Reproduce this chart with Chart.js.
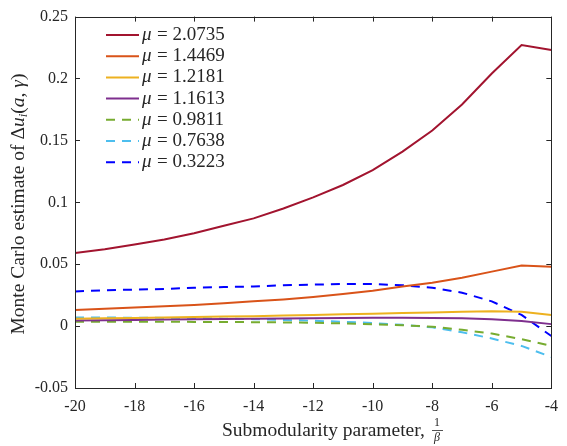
<!DOCTYPE html>
<html>
<head>
<meta charset="utf-8">
<script src="https://cdn.jsdelivr.net/npm/chart.js@4"></script>
<style>
  html, body { margin: 0; padding: 0; background: #fff; }
  #wrap { width: 567px; height: 446px; }
</style>
</head>
<body>
<div id="wrap"><canvas id="mcChart" width="567" height="446"></canvas></div>
<script>
// x values (1/beta)
const betaInv = [-20, -19, -18, -17, -16, -15, -14, -13, -12, -11, -10, -9, -8, -7, -6, -5, -4];

// one series per mu
const mu20735 = [0.059, 0.062, 0.066, 0.070, 0.075, 0.081, 0.087, 0.095, 0.104, 0.114, 0.126, 0.141, 0.158, 0.179, 0.204, 0.227, 0.223];
const mu14469 = [0.013, 0.014, 0.015, 0.016, 0.017, 0.0185, 0.020, 0.0215, 0.0235, 0.026, 0.0285, 0.032, 0.035, 0.039, 0.044, 0.049, 0.048];
const mu12181 = [0.006, 0.0063, 0.0066, 0.007, 0.0073, 0.0077, 0.008, 0.0085, 0.009, 0.0095, 0.010, 0.0105, 0.011, 0.0115, 0.012, 0.0115, 0.009];
const mu11613 = [0.0045, 0.0048, 0.005, 0.0053, 0.0055, 0.0057, 0.006, 0.0062, 0.0064, 0.0066, 0.0067, 0.0067, 0.0066, 0.0063, 0.0056, 0.0042, 0.0016];
const mu09811 = [0.0035, 0.0035, 0.0035, 0.0035, 0.0034, 0.0033, 0.0032, 0.003, 0.0027, 0.0022, 0.0015, 0.0007, -0.0005, -0.003, -0.006, -0.0105, -0.016];
const mu07638 = [0.007, 0.0069, 0.0068, 0.0066, 0.0064, 0.006, 0.0056, 0.005, 0.0043, 0.0035, 0.0025, 0.001, -0.001, -0.005, -0.010, -0.016, -0.025];
const mu03223 = [0.028, 0.029, 0.0295, 0.030, 0.031, 0.0315, 0.032, 0.033, 0.0335, 0.034, 0.034, 0.033, 0.031, 0.027, 0.020, 0.009, -0.008];

const muLabels = ['2.0735', '1.4469', '1.2181', '1.1613', '0.9811', '0.7638', '0.3223'];
const xTicks = [-20, -18, -16, -14, -12, -10, -8, -6, -4];
const yTicks = [-0.05, 0, 0.05, 0.1, 0.15, 0.2, 0.25];

const seriesList = [mu20735, mu14469, mu12181, mu11613, mu09811, mu07638, mu03223];
const colors = ['#A2142F', '#D95319', '#EDB120', '#7E2F8E', '#77AC30', '#4DBEEE', '#0000FF'];
const dashed = [false, false, false, false, true, true, true];

const SERIF = '"Liberation Serif", "DejaVu Serif", serif';
const INK = '#262626';

const datasets = seriesList.map(function(vals, i) {
    return {
        label: '\u03bc = ' + muLabels[i],
        data: betaInv.map(function(x, k) { return {x: x, y: vals[k]}; }),
        borderColor: colors[i],
        backgroundColor: colors[i],
        borderWidth: 2,
        borderDash: dashed[i] ? [9, 7] : [],
        pointRadius: 0,
        tension: 0
    };
});

// frame, inward ticks, legend and axis titles
const decorations = {
    id: 'decorations',
    afterDraw(chart) {
        const ctx = chart.ctx;
        const a = chart.chartArea;
        const xs = chart.scales.x, ys = chart.scales.y;
        ctx.save();
        ctx.strokeStyle = INK;
        ctx.lineWidth = 1;
        ctx.strokeRect(Math.round(a.left) + 0.5, Math.round(a.top) + 0.5,
            Math.round(a.right - a.left), Math.round(a.bottom - a.top));
        ctx.beginPath();
        xTicks.forEach(function(t) {
            const px = Math.round(xs.getPixelForValue(t)) + 0.5;
            ctx.moveTo(px, a.bottom); ctx.lineTo(px, a.bottom - 5);
            ctx.moveTo(px, a.top); ctx.lineTo(px, a.top + 5);
        });
        yTicks.forEach(function(t) {
            const py = Math.round(ys.getPixelForValue(t)) + 0.5;
            ctx.moveTo(a.left, py); ctx.lineTo(a.left + 5, py);
            ctx.moveTo(a.right, py); ctx.lineTo(a.right - 5, py);
        });
        ctx.stroke();

        // legend
        ctx.textBaseline = 'middle';
        ctx.fillStyle = INK;
        muLabels.forEach(function(lab, i) {
            const y = 35 + i * 21.2;
            ctx.strokeStyle = colors[i];
            ctx.lineWidth = 2;
            ctx.setLineDash(dashed[i] ? [9, 7] : []);
            ctx.beginPath();
            ctx.moveTo(106, y); ctx.lineTo(139, y);
            ctx.stroke();
            ctx.setLineDash([]);
            ctx.font = 'italic 19px ' + SERIF;
            ctx.fillText('\u03bc', 142, y);
            ctx.font = '19px ' + SERIF;
            ctx.fillText('= ' + lab, 157, y);
        });

        // x title
        ctx.font = '19.5px ' + SERIF;
        ctx.textAlign = 'left';
        ctx.fillText('Submodularity parameter,', 222, 431);
        ctx.font = '12px ' + SERIF;
        ctx.textAlign = 'center';
        ctx.fillText('1', 437, 423);
        ctx.font = 'italic 12px ' + SERIF;
        ctx.fillText('\u03b2', 437, 438);
        ctx.beginPath();
        ctx.strokeStyle = INK;
        ctx.lineWidth = 0.8;
        ctx.moveTo(432, 430.5); ctx.lineTo(443, 430.5);
        ctx.stroke();

        // y title
        ctx.translate(19, 204);
        ctx.rotate(-Math.PI / 2);
        const parts = [
            ['Monte Carlo estimate of \u0394', ''],
            ['u', 'italic '],
            ['i', 'italic sub'],
            ['(', ''],
            ['a', 'italic '],
            [', ', ''],
            ['\u03b3', 'italic '],
            [')', '']
        ];
        let total = 0;
        parts.forEach(function(p) {
            ctx.font = (p[1] === 'italic sub' ? 'italic 13px ' : p[1] + '19.5px ') + SERIF;
            p.w = ctx.measureText(p[0]).width;
            total += p.w;
        });
        let cx = -total / 2;
        ctx.textAlign = 'left';
        parts.forEach(function(p) {
            const sub = p[1] === 'italic sub';
            ctx.font = (sub ? 'italic 13px ' : p[1] + '19.5px ') + SERIF;
            ctx.fillText(p[0], cx, sub ? 5 : 0);
            cx += p.w;
        });
        ctx.restore();
    }
};

new Chart(document.getElementById('mcChart'), {
    type: 'line',
    data: { datasets: datasets },
    options: {
        responsive: false,
        animation: false,
        layout: { padding: { top: 13, right: 8, left: 0, bottom: 0 } },
        plugins: {
            legend: { display: false },
            tooltip: { enabled: false }
        },
        scales: {
            x: {
                type: 'linear',
                min: -20,
                max: -4,
                afterBuildTicks: function(scale) {
                    scale.ticks = xTicks.map(function(v) { return {value: v}; });
                },
                afterFit: function(scale) { scale.height = 58; },
                grid: { display: false, drawTicks: false },
                border: { display: false },
                ticks: {
                    padding: 9,
                    color: INK,
                    maxRotation: 0,
                    font: { family: SERIF, size: 16 },
                    callback: function(v) { return String(v); }
                }
            },
            y: {
                type: 'linear',
                min: -0.05,
                max: 0.25,
                afterBuildTicks: function(scale) {
                    scale.ticks = yTicks.map(function(v) { return {value: v}; });
                },
                afterFit: function(scale) { scale.width = 75; },
                grid: { display: false, drawTicks: false },
                border: { display: false },
                ticks: {
                    padding: 7,
                    color: INK,
                    font: { family: SERIF, size: 16 },
                    callback: function(v) { return String(parseFloat(v.toFixed(2))); }
                }
            }
        }
    },
    plugins: [decorations]
});
</script>
</body>
</html>
